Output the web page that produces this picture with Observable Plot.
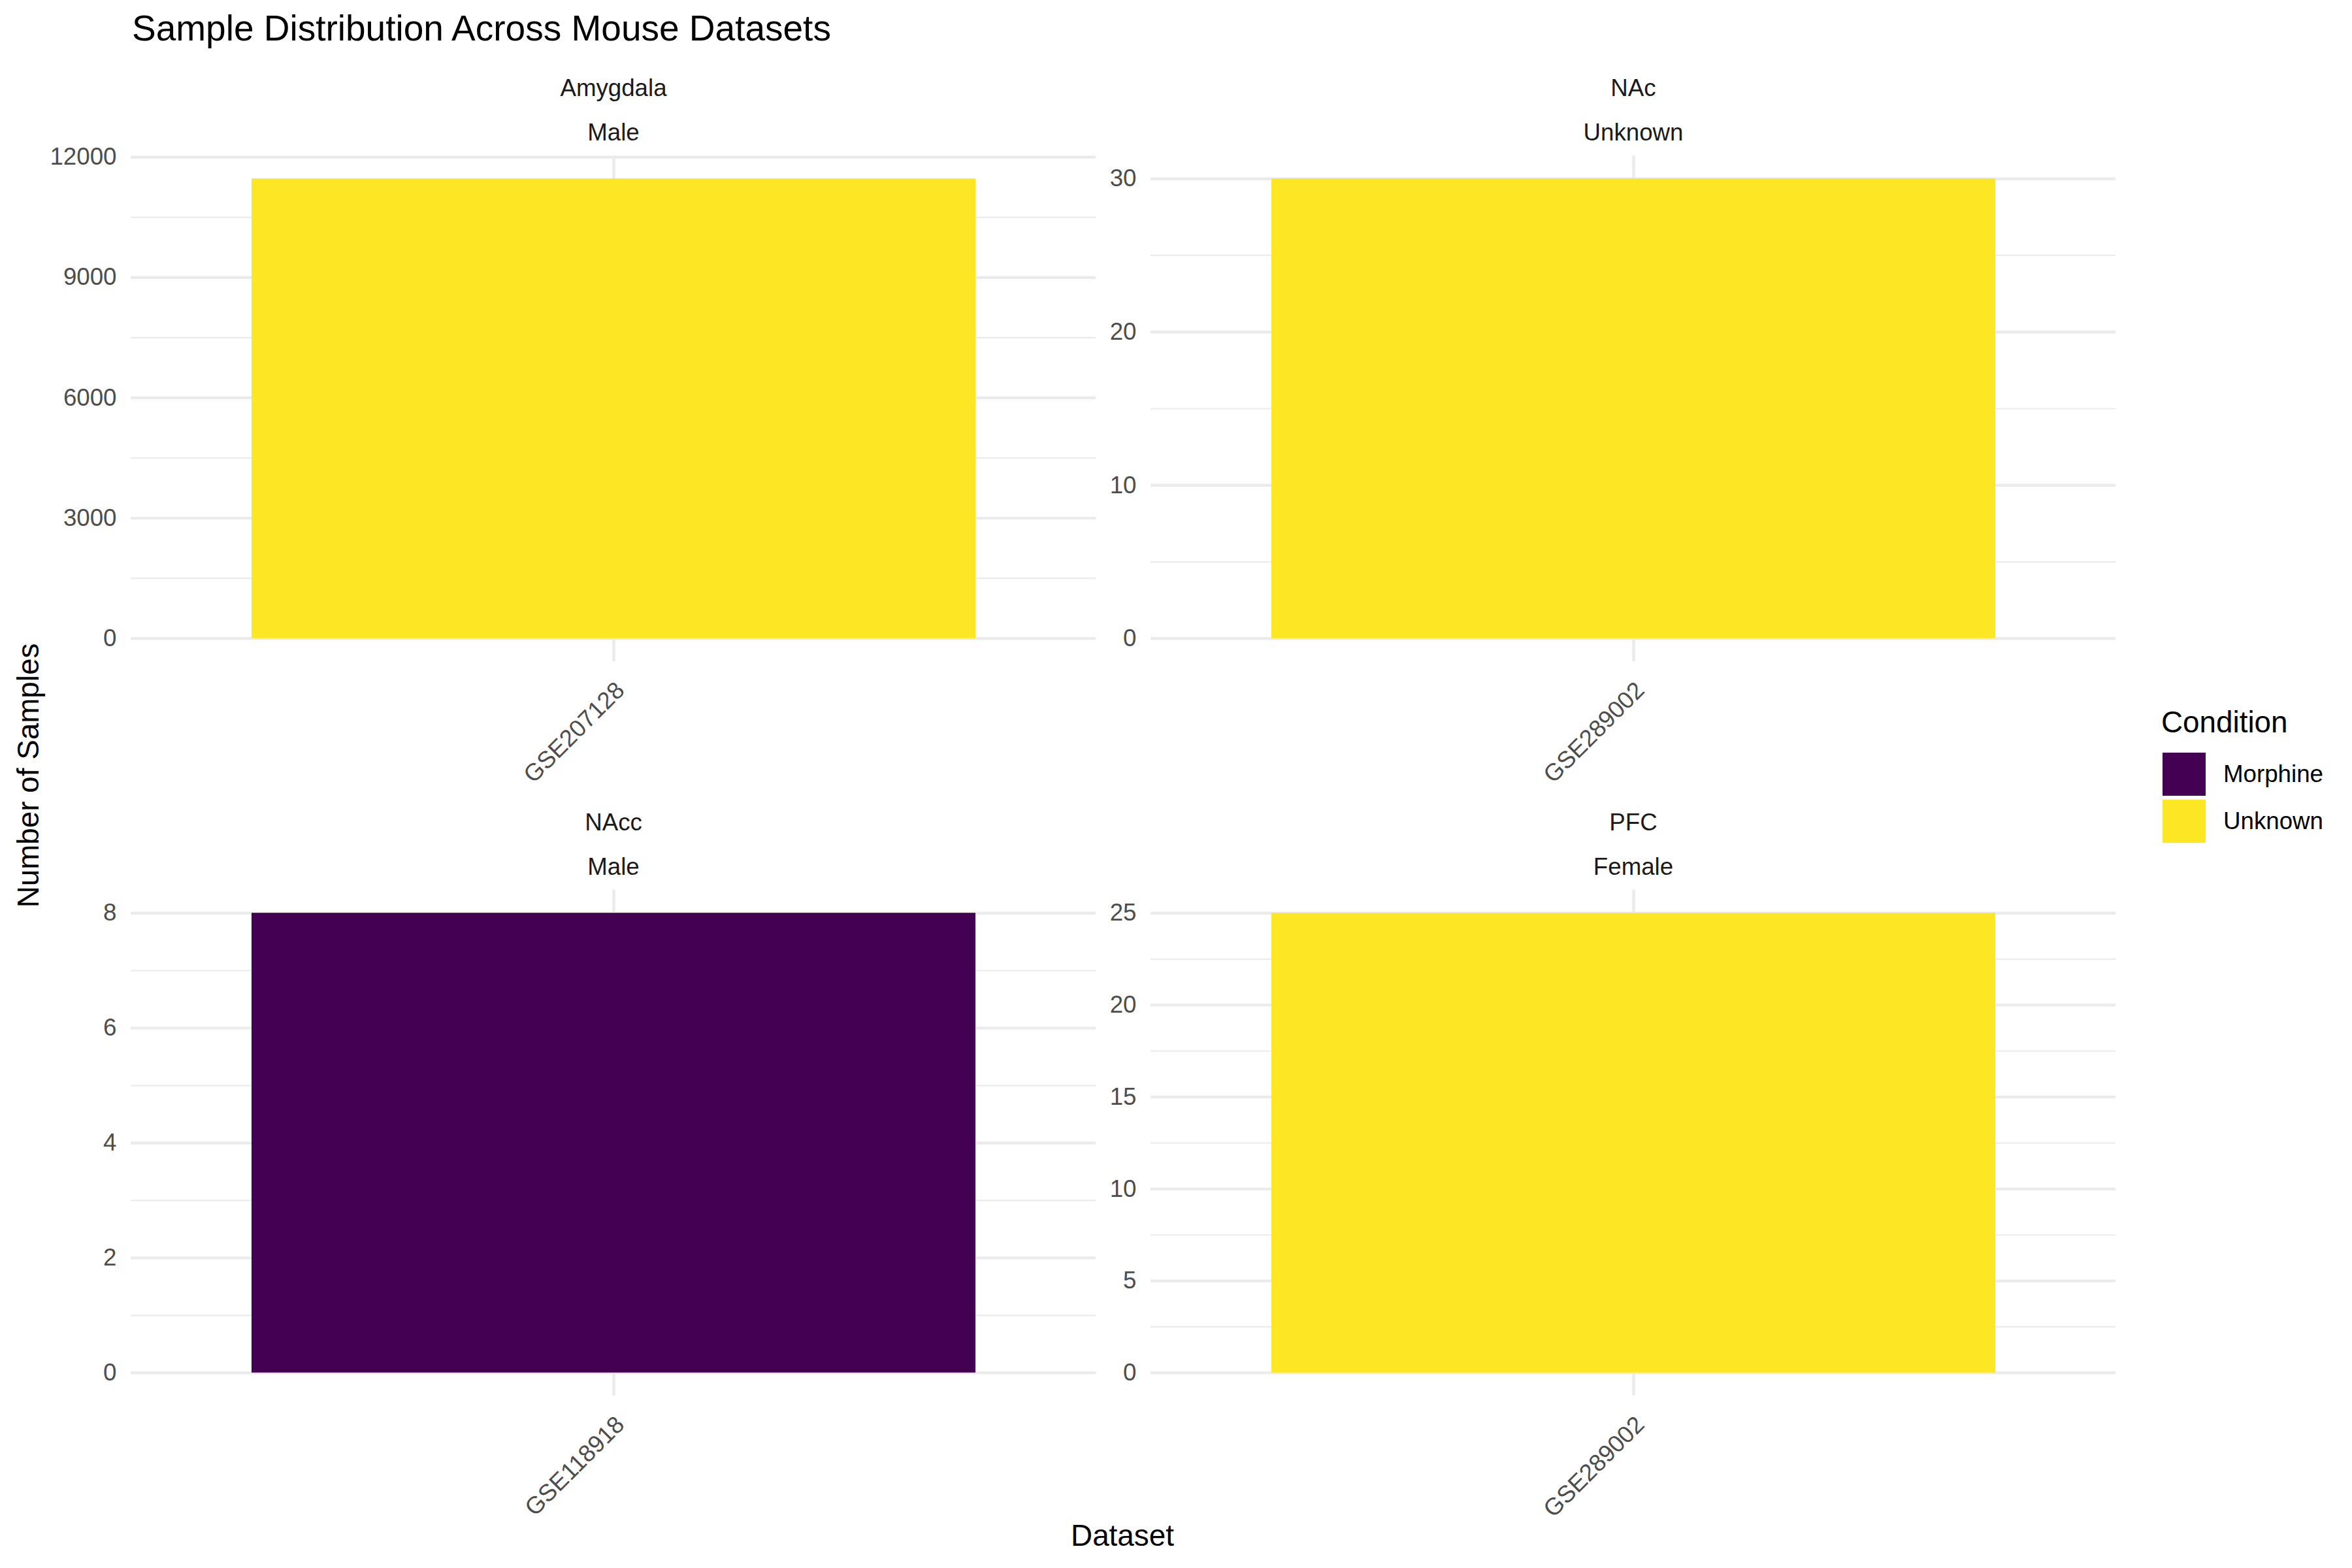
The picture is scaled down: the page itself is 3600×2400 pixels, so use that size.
<!DOCTYPE html>
<html><head><meta charset="utf-8">
<script src="https://cdn.jsdelivr.net/npm/d3@7"></script>
<script src="https://cdn.jsdelivr.net/npm/@observablehq/plot@0.6"></script>
<style>
body{margin:0;background:#fff;}
#chart{position:relative;width:3600px;height:2400px;background:#fff;font-family:"Liberation Sans",Arial,Helvetica,sans-serif;overflow:hidden;}
.abs{position:absolute;white-space:nowrap;line-height:1;}
#chart svg{position:absolute;}
</style></head><body><div id="chart"></div>
<script>
// ---- data ----
const regions = ["Amygdala", "NAc", "NAcc", "PFC"];
const sexes = ["Male", "Unknown", "Male", "Female"];
const datasets = ["GSE207128", "GSE289002", "GSE118918", "GSE289002"];
const conditions = ["Unknown", "Unknown", "Morphine", "Unknown"];
const samples = [11460, 30, 8, 25];
const yTicks = [[0, 3000, 6000, 9000, 12000], [0, 10, 20, 30], [0, 2, 4, 6, 8], [0, 5, 10, 15, 20, 25]];
const yMinor = [[1500, 4500, 7500, 10500], [5, 15, 25], [1, 3, 5, 7], [2.5, 7.5, 12.5, 17.5, 22.5]];
const conditionDomain = ["Morphine", "Unknown"];
const conditionColors = ["#440154", "#FDE725"];
const titleText = "Sample Distribution Across Mouse Datasets";
const xTitle = "Dataset";
const yTitle = "Number of Samples";
const legendTitle = "Condition";

// ---- layout ----
const chart = d3.select("#chart");
const W = 1477, H = 774;
const ml = 200, mr = 10, mt = 140, mb = 230;
const panelPos = [{left: 200, top: 238}, {left: 1761, top: 238}, {left: 200, top: 1362}, {left: 1761, top: 1362}];
const font = '"Liberation Sans", Arial, Helvetica, sans-serif';

regions.forEach((region, i) => {
  const rows = [{dataset: datasets[i], condition: conditions[i], samples: samples[i], region, sex: sexes[i]}];
  const m = d3.max(rows, d => d.samples);
  const p = Plot.plot({
    width: W + ml + mr,
    height: H + mt + mb,
    marginLeft: ml, marginRight: mr, marginTop: mt, marginBottom: mb,
    style: {background: "transparent", fontFamily: font, fontSize: "36.7px", overflow: "visible", maxWidth: "none"},
    x: {type: "band", domain: [datasets[i]], paddingInner: 0, paddingOuter: 0.166, axis: null},
    y: {domain: [-0.05 * m, 1.05 * m], axis: null},
    color: {domain: conditionDomain, range: conditionColors},
    marks: [
      Plot.gridY(yMinor[i], {stroke: "#EBEBEB", strokeOpacity: 1, strokeWidth: 2.2}),
      Plot.gridY(yTicks[i], {stroke: "#EBEBEB", strokeOpacity: 1, strokeWidth: 4.4}),
      Plot.gridX([datasets[i]], {stroke: "#EBEBEB", strokeOpacity: 1, strokeWidth: 4.4}),
      Plot.barY(rows, {x: "dataset", y: "samples", fill: "condition"}),
      Plot.axisY(yTicks[i], {tickSize: 0, tickPadding: 22, color: "#4D4D4D", label: null, tickFormat: d => String(d)}),
      Plot.text(rows, {x: "dataset", text: "dataset", frameAnchor: "bottom", dx: 10, dy: 38, rotate: -45, textAnchor: "end", lineAnchor: "middle", fill: "#4D4D4D"}),
      Plot.text(rows, {text: "region", frameAnchor: "top", dy: -103, lineAnchor: "middle", fill: "#1A1A1A"}),
      Plot.text(rows, {text: "sex", frameAnchor: "top", dy: -35, lineAnchor: "middle", fill: "#1A1A1A"})
    ]
  });
  p.style.left = (panelPos[i].left - ml) + "px";
  p.style.top = (panelPos[i].top - mt) + "px";
  chart.node().appendChild(p);
});

// title
chart.append("div").attr("class", "abs")
  .style("left", "202px").style("top", "16px").style("font-size", "55px").style("color", "#000")
  .text(titleText);

// y title
chart.append("div").attr("class", "abs")
  .style("left", "44px").style("top", "1187px").style("font-size", "45.8px").style("color", "#000")
  .style("transform", "translate(-50%,-50%) rotate(-90deg)")
  .text(yTitle);

// x title
chart.append("div").attr("class", "abs")
  .style("left", "1718px").style("top", "2351px").style("font-size", "45.8px").style("color", "#000")
  .style("transform", "translate(-50%,-50%)")
  .text(xTitle);

// legend
chart.append("div").attr("class", "abs")
  .style("left", "3308px").style("top", "1083px").style("font-size", "45.8px").style("color", "#000")
  .text(legendTitle);
conditionDomain.forEach((c, j) => {
  chart.append("div").attr("class", "abs")
    .style("left", "3310px").style("top", (1152 + 72 * j) + "px")
    .style("width", "66px").style("height", "66px").style("background", conditionColors[j]);
  chart.append("div").attr("class", "abs")
    .style("left", "3403px").style("top", (1167 + 72 * j) + "px").style("font-size", "36.7px").style("color", "#000")
    .text(c);
});
</script></body></html>
